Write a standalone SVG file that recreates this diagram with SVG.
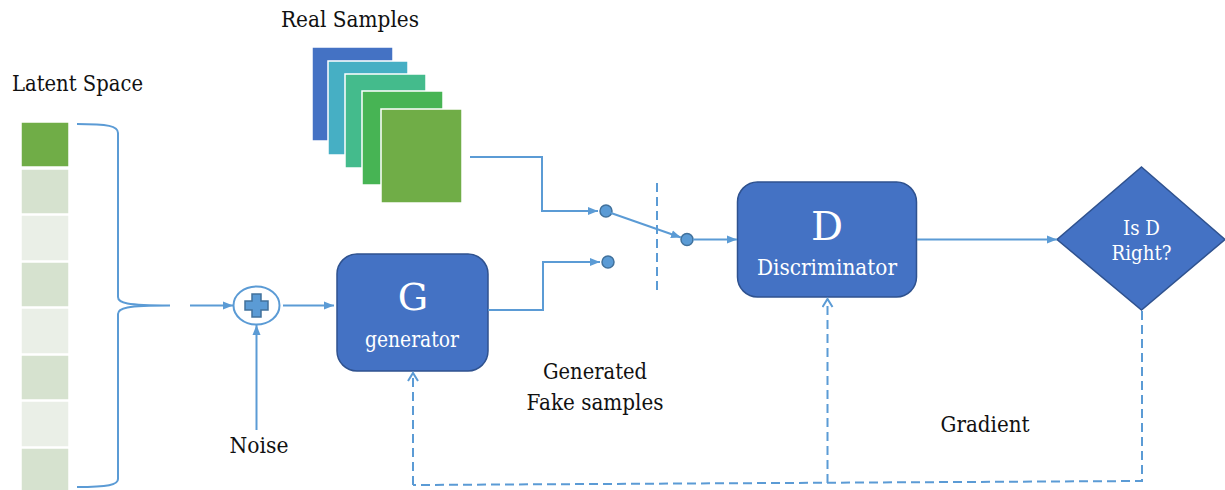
<svg xmlns="http://www.w3.org/2000/svg" width="1225" height="490" viewBox="0 0 1225 490">
  <defs>
    <style>
      .lbl { font-family: "DejaVu Serif", "Liberation Serif", serif; font-size: 23px; fill: #111; }
      .wt { font-family: "DejaVu Serif", "Liberation Serif", serif; fill: #fff; text-anchor: middle; }
      .box { fill: #4472C4; stroke: #2F528F; stroke-width: 1.5; }
      .wire { fill: none; stroke: #5B9BD5; stroke-width: 2; }
      .dash { fill: none; stroke: #5B9BD5; stroke-width: 2; stroke-dasharray: 9 5; }
      .dot { fill: #5B9BD5; stroke: #41719C; stroke-width: 1.5; }
      .cell { stroke: #fff; stroke-width: 1.5; }
      .sheet { stroke: #fff; stroke-width: 1.5; }
    </style>
    <marker id="tri" markerUnits="userSpaceOnUse" markerWidth="11" markerHeight="10" refX="10" refY="5" orient="auto">
      <path d="M0,1 L10,5 L0,9 Z" fill="#5B9BD5"/>
    </marker>
    <marker id="chev" markerUnits="userSpaceOnUse" markerWidth="12" markerHeight="12" refX="10" refY="6" orient="auto">
      <path d="M2,1 L10,6 L2,11" fill="none" stroke="#5B9BD5" stroke-width="2"/>
    </marker>
  </defs>

  <rect width="1225" height="490" fill="#fff"/>

  <!-- latent vector -->
  <g id="latent-space">
    <text class="lbl" x="12" y="91" textLength="131" lengthAdjust="spacingAndGlyphs">Latent Space</text>
    <rect class="cell" x="21" y="122" width="48" height="45" fill="#70AD47"/>
    <rect class="cell" x="21" y="169" width="48" height="45" fill="#D6E2CF"/>
    <rect class="cell" x="21" y="215" width="48" height="46" fill="#EAEFE7"/>
    <rect class="cell" x="21" y="262" width="48" height="45" fill="#D6E2CF"/>
    <rect class="cell" x="21" y="308" width="48" height="46" fill="#EAEFE7"/>
    <rect class="cell" x="21" y="355" width="48" height="45" fill="#D6E2CF"/>
    <rect class="cell" x="21" y="401" width="48" height="46" fill="#EAEFE7"/>
    <rect class="cell" x="21" y="448" width="48" height="45" fill="#D6E2CF"/>
    <path class="wire" d="M77,124 C108,124 118,126 118,133 L118,297 C118,303 126,305.5 170,305.5 C126,305.5 118,308 118,314 L118,479 C118,485 108,487 77,487"/>
  </g>

  <!-- real sample stack -->
  <g id="real-samples">
    <text class="lbl" x="281" y="27" textLength="138" lengthAdjust="spacingAndGlyphs">Real Samples</text>
    <rect class="sheet" x="312" y="47" width="81" height="94" fill="#4472C4"/>
    <rect class="sheet" x="328" y="61" width="80" height="94" fill="#46AFC4"/>
    <rect class="sheet" x="345" y="74" width="81" height="94" fill="#44BB8C"/>
    <rect class="sheet" x="362" y="91" width="81" height="94" fill="#47B454"/>
    <rect class="sheet" x="381" y="109" width="81" height="94" fill="#70AD47"/>
  </g>

  <!-- adder -->
  <g id="adder">
    <ellipse cx="256.5" cy="305.5" rx="23" ry="19" fill="#fff" stroke="#5B9BD5" stroke-width="2"/>
    <path d="M252,294 H261 V301 H268 V310 H261 V317 H252 V310 H245 V301 H252 Z" fill="#5B9BD5" stroke="#41719C" stroke-width="1.5"/>
  </g>

  <g id="noise">
    <text class="lbl" x="259" y="453" text-anchor="middle" textLength="59" lengthAdjust="spacingAndGlyphs">Noise</text>
  </g>

  <g id="generator">
    <rect class="box" x="337" y="254" width="151" height="117" rx="20"/>
    <text class="wt" x="413" y="310" font-size="38">G</text>
    <text class="wt" x="412" y="347" font-size="23" textLength="94" lengthAdjust="spacingAndGlyphs">generator</text>
  </g>

  <g id="switch">
    <circle class="dot" cx="606" cy="211" r="6"/>
    <circle class="dot" cx="608" cy="262" r="6"/>
    <circle class="dot" cx="687" cy="239.5" r="6"/>
    <line class="dash" x1="657" y1="183" x2="657" y2="295"/>
  </g>

  <g id="discriminator">
    <rect class="box" x="737.5" y="182" width="179" height="115" rx="20"/>
    <text class="wt" x="827" y="240" font-size="40">D</text>
    <text class="wt" x="827" y="275" font-size="23" textLength="140" lengthAdjust="spacingAndGlyphs">Discriminator</text>
  </g>

  <g id="decision">
    <polygon points="1141.5,167 1225,239.5 1141.5,310 1057,239.5" fill="#4472C4" stroke="#2F528F" stroke-width="1.5"/>
    <text class="wt" x="1141.5" y="235" font-size="20" textLength="37" lengthAdjust="spacingAndGlyphs">Is D</text>
    <text class="wt" x="1141.5" y="260" font-size="20" textLength="60" lengthAdjust="spacingAndGlyphs">Right?</text>
  </g>

  <g id="labels">
    <text class="lbl" x="595" y="379" text-anchor="middle" textLength="104" lengthAdjust="spacingAndGlyphs">Generated</text>
    <text class="lbl" x="595" y="410" text-anchor="middle" textLength="137" lengthAdjust="spacingAndGlyphs">Fake samples</text>
    <text class="lbl" x="985" y="432" text-anchor="middle" textLength="89" lengthAdjust="spacingAndGlyphs">Gradient</text>
  </g>

  <g id="connectors">
    <line class="wire" x1="190" y1="305.5" x2="233" y2="305.5" marker-end="url(#tri)"/>
    <line class="wire" x1="256.5" y1="430" x2="256.5" y2="325" marker-end="url(#tri)"/>
    <line class="wire" x1="283" y1="305.5" x2="334" y2="305.5" marker-end="url(#tri)"/>
    <path class="wire" d="M470,157 H542 V211 H598" marker-end="url(#tri)"/>
    <path class="wire" d="M488,310 H543 V262 H600" marker-end="url(#tri)"/>
    <line class="wire" x1="611" y1="213" x2="681" y2="237.5" marker-end="url(#tri)"/>
    <line class="wire" x1="693" y1="239.5" x2="737" y2="239.5" marker-end="url(#tri)"/>
    <line class="wire" x1="917" y1="239.5" x2="1057" y2="239.5" marker-end="url(#tri)"/>
    <!-- gradient feedback -->
    <path class="dash" d="M1142,311 V481 L413,485"/>
    <line class="dash" x1="413" y1="485" x2="413" y2="373" marker-end="url(#chev)"/>
    <line class="dash" x1="827.5" y1="483" x2="827.5" y2="299" marker-end="url(#chev)"/>
  </g>
</svg>
